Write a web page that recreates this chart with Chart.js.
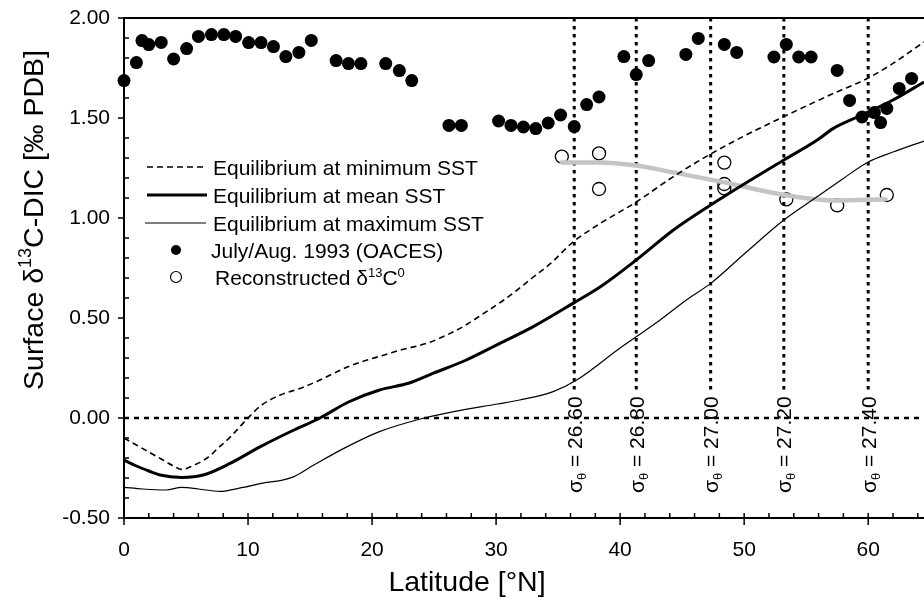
<!DOCTYPE html>
<html>
<head>
<meta charset="utf-8">
<script src="https://cdn.jsdelivr.net/npm/chart.js@4"></script>
<style>
  html, body { margin: 0; padding: 0; background: #fff; }
  canvas { display: block; }
</style>
</head>
<body>
<canvas id="chart" width="924" height="603"></canvas>
<script>
const FONT = '"Liberation Sans", Arial, Helvetica, sans-serif';

// equilibrium d13C at minimum SST (dashed)
const minSstLat = [0, 1, 2, 3, 4, 4.65, 5.5, 6.7, 7.6, 8.6, 10, 11, 12.6, 14.2, 15.8, 16.9, 18.2, 19.6, 21, 22.3, 24.4, 26.3, 27.7, 29, 30.4, 31.7, 33, 34.4, 36.2, 38.4, 41.3, 44.3, 47.3, 50, 53.2, 55, 57.2, 60, 62, 64.5];
const minSstVal = [-0.10, -0.135, -0.17, -0.205, -0.24, -0.257, -0.24, -0.20, -0.15, -0.093, 0.0, 0.06, 0.115, 0.148, 0.19, 0.223, 0.26, 0.29, 0.315, 0.34, 0.373, 0.423, 0.47, 0.523, 0.58, 0.64, 0.705, 0.773, 0.88, 0.973, 1.08, 1.207, 1.32, 1.41, 1.507, 1.56, 1.623, 1.70, 1.773, 1.88];

// equilibrium at mean SST (thick)
const meanSstLat = [0, 1, 2, 2.9, 4.65, 6.4, 8.55, 11, 13.7, 15.8, 18.1, 20.6, 23, 24.9, 27.6, 30.3, 33, 36.2, 38.5, 41.3, 44.3, 47.3, 50, 53.2, 55.9, 57.2, 59.5, 62, 64.5];
const meanSstVal = [-0.21, -0.24, -0.265, -0.285, -0.297, -0.285, -0.227, -0.143, -0.06, 0.0, 0.08, 0.14, 0.175, 0.223, 0.29, 0.373, 0.457, 0.573, 0.66, 0.79, 0.94, 1.065, 1.17, 1.29, 1.39, 1.448, 1.515, 1.59, 1.68];

// equilibrium at maximum SST (thin)
const maxSstLat = [0, 1.5, 3.4, 4.65, 6, 7.7, 9.6, 11.5, 12.6, 13.7, 15.3, 18, 20.6, 23.9, 26.6, 30.1, 31.9, 34.6, 36.5, 40, 43, 45.4, 47.3, 50, 53.2, 55.9, 58, 60, 62, 64.5];
const maxSstVal = [-0.347, -0.355, -0.36, -0.347, -0.355, -0.367, -0.347, -0.322, -0.313, -0.293, -0.235, -0.143, -0.068, -0.005, 0.032, 0.07, 0.09, 0.132, 0.19, 0.35, 0.48, 0.593, 0.673, 0.82, 0.99, 1.107, 1.198, 1.28, 1.33, 1.385];

// July/Aug. 1993 OACES surface d13C-DIC
const oacesLat = [0, 1.0, 1.45, 2.0, 3.0, 4.0, 5.05, 6.0, 7.05, 8.05, 9.0, 10.05, 11.05, 12.05, 13.05, 14.1, 15.1, 17.1, 18.1, 19.1, 21.1, 22.2, 23.2, 26.2, 27.2, 30.2, 31.2, 32.2, 33.2, 34.2, 35.2, 36.3, 37.3, 38.3, 40.3, 41.3, 42.3, 45.3, 46.3, 48.4, 49.4, 52.4, 53.4, 54.4, 55.4, 57.5, 58.5, 59.5, 60.5, 61.0, 61.5, 62.5, 63.5];
const oacesVal = [1.687, 1.777, 1.887, 1.867, 1.878, 1.795, 1.847, 1.908, 1.917, 1.917, 1.908, 1.877, 1.877, 1.857, 1.807, 1.828, 1.888, 1.787, 1.772, 1.772, 1.772, 1.737, 1.687, 1.463, 1.463, 1.485, 1.463, 1.455, 1.447, 1.475, 1.515, 1.457, 1.567, 1.605, 1.807, 1.717, 1.787, 1.818, 1.898, 1.868, 1.828, 1.805, 1.868, 1.805, 1.805, 1.738, 1.588, 1.505, 1.527, 1.477, 1.548, 1.648, 1.698];

// reconstructed d13C0 and its smooth fit (grey)
const reconLat = [35.3, 38.3, 38.3, 48.4, 48.4, 48.4, 53.4, 57.5, 61.5];
const reconVal = [1.307, 1.323, 1.145, 1.277, 1.17, 1.148, 1.093, 1.063, 1.115];
const fitLat = [35.3, 38.3, 41.3, 44.3, 48.4, 53.3, 57.3, 61.4];
const fitVal = [1.277, 1.278, 1.262, 1.228, 1.178, 1.115, 1.088, 1.094];

// isopycnal outcrops
const sigmaLat = [36.3, 41.3, 47.3, 53.2, 60.0];
const sigmaLabels = ["26.60", "26.80", "27.00", "27.20", "27.40"];

const yTickLabels = ["-0.50", "0.00", "0.50", "1.00", "1.50", "2.00"];
const xTickLabels = ["0", "10", "20", "30", "40", "50", "60"];

const pts = (xs, ys) => xs.map((x, i) => ({ x, y: ys[i] }));
const near = (a, b) => Math.abs(a - b) < 1e-6;

function drawRuns(ctx, x, y, runs) {
  for (const r of runs) {
    ctx.font = `${r.size}px ${FONT}`;
    ctx.fillText(r.t, x, y + (r.dy || 0));
    x += ctx.measureText(r.t).width;
  }
  return x;
}
function runsWidth(ctx, runs) {
  let w = 0;
  for (const r of runs) { ctx.font = `${r.size}px ${FONT}`; w += ctx.measureText(r.t).width; }
  return w;
}

const decor = {
  id: "decor",
  beforeDatasetsDraw(chart) {
    const { ctx, chartArea: a, scales: { x, y } } = chart;
    ctx.save();
    ctx.strokeStyle = "#000";
    // zero line
    ctx.lineWidth = 2.5;
    ctx.setLineDash([5, 5]);
    const y0 = y.getPixelForValue(0);
    ctx.beginPath(); ctx.moveTo(a.left, y0); ctx.lineTo(a.right, y0); ctx.stroke();
    // sigma lines
    ctx.lineWidth = 3;
    ctx.setLineDash([3.5, 4.5]);
    sigmaLat.forEach(lat => {
      const px = x.getPixelForValue(lat);
      ctx.beginPath(); ctx.moveTo(px, a.top); ctx.lineTo(px, y.getPixelForValue(0.12)); ctx.stroke();
    });
    ctx.setLineDash([]);
    // sigma labels
    ctx.fillStyle = "#000";
    ctx.textBaseline = "alphabetic";
    sigmaLat.forEach((lat, i) => {
      const px = x.getPixelForValue(lat);
      ctx.save();
      ctx.translate(px + 7.5, y.getPixelForValue(-0.375));
      ctx.rotate(-Math.PI / 2);
      drawRuns(ctx, 0, 0, [
        { t: "\u03c3", size: 21 },
        { t: "\u03b8", size: 13, dy: 4 },
        { t: " = " + sigmaLabels[i], size: 21 }
      ]);
      ctx.restore();
    });
    ctx.restore();
  },
  afterDraw(chart) {
    const { ctx, chartArea: a, scales: { x, y } } = chart;
    ctx.save();
    ctx.strokeStyle = "#000";
    ctx.fillStyle = "#000";
    // frame top
    ctx.lineWidth = 2;
    ctx.beginPath(); ctx.moveTo(a.left, a.top); ctx.lineTo(a.right, a.top); ctx.stroke();
    // ticks
    ctx.lineWidth = 1.5;
    y.ticks.forEach(t => {
      const p = y.getPixelForValue(t.value);
      const major = near(t.value * 2, Math.round(t.value * 2));
      ctx.beginPath();
      if (major) { ctx.moveTo(a.left - 6, p); ctx.lineTo(a.left, p); }
      else { ctx.moveTo(a.left, p); ctx.lineTo(a.left + 5, p); }
      ctx.stroke();
    });
    x.ticks.forEach(t => {
      if (!near(t.value / 2, Math.round(t.value / 2))) return;
      const p = x.getPixelForValue(t.value);
      const major = near(t.value / 10, Math.round(t.value / 10));
      ctx.beginPath();
      ctx.moveTo(p, a.bottom - 5); ctx.lineTo(p, a.bottom + (major ? 7 : 0));
      ctx.stroke();
    });
    // axis titles
    ctx.textBaseline = "alphabetic";
    ctx.font = `28.5px ${FONT}`;
    ctx.textAlign = "center";
    ctx.fillText("Latitude [\u00b0N]", 467, 591);
    ctx.textAlign = "left";
    const yRuns = [
      { t: "Surface \u03b4", size: 28.5 },
      { t: "13", size: 18, dy: -12 },
      { t: "C-DIC [\u2030 PDB]", size: 28.5 }
    ];
    const w = runsWidth(ctx, yRuns);
    ctx.save();
    ctx.translate(43, 220 + w / 2);
    ctx.rotate(-Math.PI / 2);
    drawRuns(ctx, 0, 0, yRuns);
    ctx.restore();
    // legend
    const rows = [167, 195, 223, 250, 277];
    ctx.lineCap = "butt";
    ctx.setLineDash([6, 4]); ctx.lineWidth = 1.6;
    ctx.beginPath(); ctx.moveTo(147, rows[0]); ctx.lineTo(207, rows[0]); ctx.stroke();
    ctx.setLineDash([]); ctx.lineWidth = 3;
    ctx.beginPath(); ctx.moveTo(147, rows[1]); ctx.lineTo(207, rows[1]); ctx.stroke();
    ctx.lineWidth = 1.2;
    ctx.beginPath(); ctx.moveTo(145, rows[2]); ctx.lineTo(206, rows[2]); ctx.stroke();
    ctx.beginPath(); ctx.arc(176, rows[3], 5, 0, Math.PI * 2); ctx.fill();
    ctx.beginPath(); ctx.arc(176, rows[4], 5.5, 0, Math.PI * 2); ctx.stroke();
    const tb = 7.5;
    drawRuns(ctx, 213, rows[0] + tb, [{ t: "Equilibrium at minimum SST", size: 21 }]);
    drawRuns(ctx, 213, rows[1] + tb, [{ t: "Equilibrium at mean SST", size: 21 }]);
    drawRuns(ctx, 213, rows[2] + tb, [{ t: "Equilibrium at maximum SST", size: 21 }]);
    drawRuns(ctx, 211, rows[3] + tb, [{ t: "July/Aug. 1993 (OACES)", size: 21 }]);
    drawRuns(ctx, 215, rows[4] + tb, [
      { t: "Reconstructed \u03b4", size: 21 },
      { t: "13", size: 13, dy: -8 },
      { t: "C", size: 21 },
      { t: "0", size: 13, dy: -8 }
    ]);
    ctx.restore();
  }
};

const lineDs = (lat, val, extra) => Object.assign({
  data: pts(lat, val),
  showLine: true,
  pointRadius: 0,
  borderColor: "#000",
  cubicInterpolationMode: "monotone",
  fill: false
}, extra);

new Chart(document.getElementById("chart"), {
  type: "scatter",
  data: {
    datasets: [
      lineDs(minSstLat, minSstVal, { borderWidth: 1.6, borderDash: [6, 4] }),
      lineDs(meanSstLat, meanSstVal, { borderWidth: 3 }),
      lineDs(maxSstLat, maxSstVal, { borderWidth: 1.2 }),
      lineDs(fitLat, fitVal, { borderWidth: 4.5, borderColor: "#c4c4c4", borderCapStyle: "round" }),
      {
        data: pts(oacesLat, oacesVal),
        pointRadius: 6.5,
        pointBackgroundColor: "#000",
        pointBorderColor: "#000",
        pointBorderWidth: 0,
        clip: false
      },
      {
        data: pts(reconLat, reconVal),
        pointRadius: 6.5,
        pointBackgroundColor: "rgba(0,0,0,0)",
        pointBorderColor: "#000",
        pointBorderWidth: 1.3,
        clip: false
      }
    ]
  },
  options: {
    responsive: false,
    animation: false,
    devicePixelRatio: 1,
    layout: { autoPadding: false, padding: { top: 18, right: 0, left: 0, bottom: 0 } },
    plugins: { legend: { display: false }, tooltip: { enabled: false } },
    scales: {
      x: {
        type: "linear",
        min: 0,
        max: 64.5,
        afterFit: s => { s.height = 85; s.paddingLeft = 0; s.paddingRight = 0; },
        border: { display: true, color: "#000", width: 2 },
        grid: { display: false, drawTicks: false },
        ticks: {
          stepSize: 2,
          includeBounds: false,
          autoSkip: false,
          maxRotation: 0,
          padding: 20,
          color: "#000",
          font: { family: FONT, size: 21 },
          callback: v => xTickLabels.find(l => near(Number(l), v)) || ""
        }
      },
      y: {
        type: "linear",
        min: -0.5,
        max: 2.0,
        afterFit: s => { s.width = 124; s.paddingTop = 0; s.paddingBottom = 0; },
        border: { display: true, color: "#000", width: 2 },
        grid: { display: false, drawTicks: false },
        ticks: {
          stepSize: 0.1,
          autoSkip: false,
          padding: 14,
          color: "#000",
          font: { family: FONT, size: 21 },
          callback: v => yTickLabels.find(l => near(Number(l), v)) || ""
        }
      }
    }
  },
  plugins: [decor]
});
</script>
</body>
</html>
